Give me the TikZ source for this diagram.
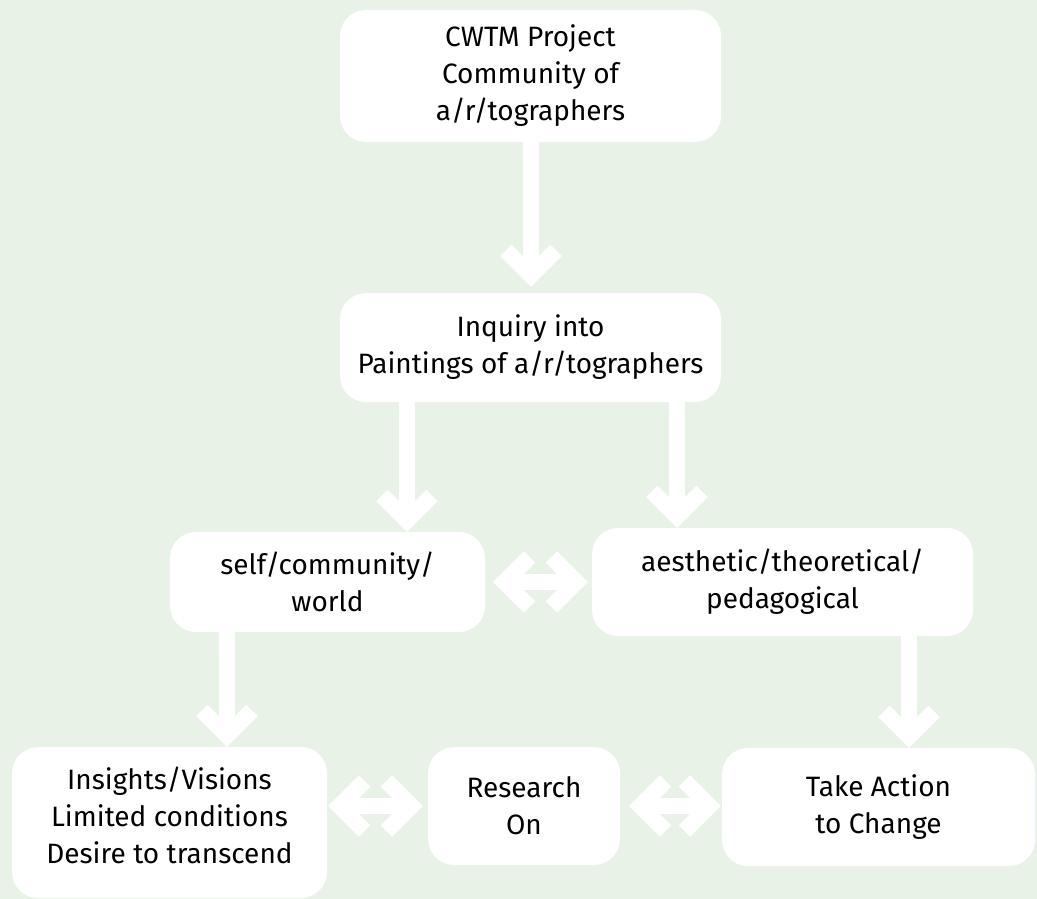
\documentclass[tikz,border=0pt]{standalone}
\usepackage{fontspec}
\setmainfont{Fira Sans}
\usetikzlibrary{arrows.meta}
\definecolor{paper}{RGB}{232,242,230}

\begin{document}
\begin{tikzpicture}[x=1pt, y=-1pt,
    box/.style={fill=white, rounded corners=26pt, align=center, inner sep=0pt,
        font=\fontsize{28}{37}\selectfont},
    flow/.style={white, line width=16pt, -{Straight Barb[length=25pt, width=50pt]}},
    both/.style={flow, {Straight Barb[length=25pt, width=50pt]}-{Straight Barb[length=25pt, width=50pt]}}]
    \fill[paper] (0,0) rectangle (1037,899);
    % Boxes
    \node[box, minimum width=381pt, minimum height=132pt] (proj) at (530.5,76) {CWTM Project\\Community of\\a/r/tographers};
    \node[box, minimum width=381pt, minimum height=109pt] (inq) at (530.5,347.5) {Inquiry into\\Paintings of a/r/tographers};
    \node[box, minimum width=315pt, minimum height=100pt] (self) at (327.5,582) {self/community/\\world};
    \node[box, minimum width=381pt, minimum height=108pt] (aest) at (782.5,582) {aesthetic/theoretical/\\pedagogical};
    \node[box, minimum width=315pt, minimum height=151pt] (ins) at (169.5,822.5) {Insights/Visions\\Limited conditions\\Desire to transcend\\[-23pt]};
    \node[box, minimum width=192pt, minimum height=118pt] (res) at (524,806) {Research\\On};
    \node[box, minimum width=313pt, minimum height=118pt] (act) at (878.5,807) {Take Action\\to Change};
    % Arrows down
    \foreach \a/\b/\x/\s in {proj/inq/531/6, inq/self/407/0, inq/aest/677/0, self/ins/227/0, aest/act/909/0}
        \draw[flow, shorten >=\s pt] (\a.south -| \x,0) -- (\b.north -| \x,0);
    % Arrows both ways
    \draw[both, shorten <=8pt, shorten >=4pt] (self.east) -- (aest.west |- self.east);
    \draw[both, shorten <=1pt, shorten >=5pt] (ins.east |- res.west) -- (res.west);
    \draw[both, shorten <=9pt, shorten >=1pt] (res.east) -- (act.west |- res.east);
\end{tikzpicture}
\end{document}
